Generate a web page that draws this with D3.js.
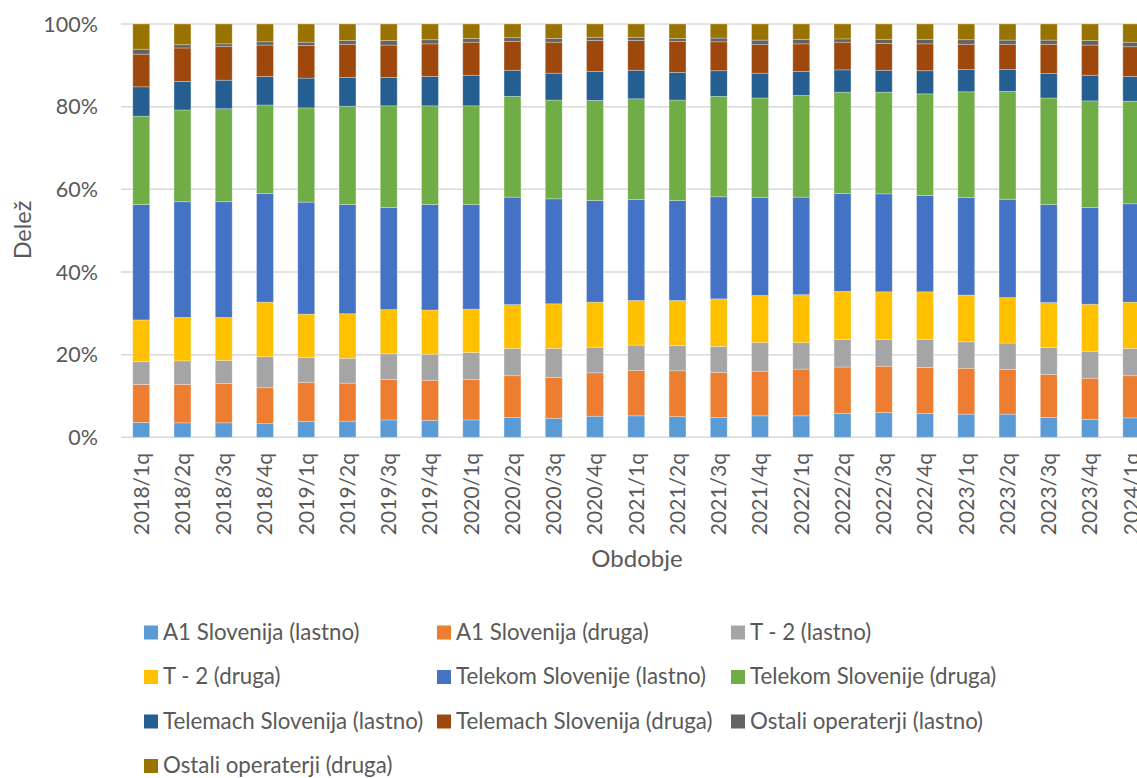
<!DOCTYPE html>
<html>
<head>
<meta charset="utf-8">
<script src="https://cdn.jsdelivr.net/npm/d3@7"></script>
<style>
  html, body { margin: 0; padding: 0; background: #fff; overflow: hidden; }
  text { font-family: Lato, "Open Sans", sans-serif; fill: #595959; }
</style>
</head>
<body>
<svg id="chart" width="1137" height="778"></svg>
<script>
const categories = ["2018/1q","2018/2q","2018/3q","2018/4q","2019/1q","2019/2q","2019/3q","2019/4q",
  "2020/1q","2020/2q","2020/3q","2020/4q","2021/1q","2021/2q","2021/3q","2021/4q",
  "2022/1q","2022/2q","2022/3q","2022/4q","2023/1q","2023/2q","2023/3q","2023/4q","2024/1q"];

const seriesNames = ["A1 Slovenija (lastno)","A1 Slovenija (druga)","T - 2 (lastno)","T - 2 (druga)",
  "Telekom Slovenije (lastno)","Telekom Slovenije (druga)","Telemach Slovenija (lastno)",
  "Telemach Slovenija (druga)","Ostali operaterji (lastno)","Ostali operaterji (druga)"];

const a1Lastno       = [3.6,3.5,3.5,3.3,3.8,3.9,4.2,4.1,4.2,4.8,4.6,5.1,5.2,5.0,4.8,5.2,5.2,5.8,6.0,5.8,5.6,5.6,4.8,4.3,4.7];
const a1Druga        = [9.2,9.3,9.5,8.7,9.5,9.2,9.8,9.7,9.8,10.1,9.9,10.5,11.0,11.1,10.9,10.8,11.3,11.2,11.2,11.1,11.1,10.8,10.4,10.0,10.2];
const t2Lastno       = [5.5,5.7,5.6,7.5,6.0,6.0,6.2,6.3,6.5,6.6,7.0,6.2,6.1,6.1,6.3,6.9,6.4,6.7,6.5,6.8,6.4,6.4,6.5,6.5,6.6];
const t2Druga        = [10.1,10.5,10.4,13.2,10.5,10.8,10.7,10.7,10.5,10.6,10.8,10.9,10.8,10.9,11.5,11.4,11.6,11.6,11.5,11.5,11.3,11.0,10.9,11.4,11.2];
const telekomLastno  = [27.9,28.0,28.0,26.3,27.1,26.4,24.7,25.5,25.3,26.0,25.4,24.6,24.4,24.2,24.7,23.7,23.6,23.7,23.7,23.3,23.6,23.8,23.7,23.4,23.8];
const telekomDruga   = [21.4,22.2,22.5,21.4,22.8,23.8,24.6,23.9,23.9,24.4,23.9,24.2,24.4,24.3,24.3,24.1,24.6,24.5,24.6,24.6,25.6,26.1,25.8,25.8,24.8];
const telemachLastno = [7.1,6.9,6.9,6.9,7.2,7.0,6.9,7.1,7.4,6.3,6.5,7.0,6.9,6.7,6.2,6.0,5.8,5.4,5.3,5.6,5.4,5.3,5.9,6.2,6.0];
const telemachDruga  = [7.9,8.1,8.2,7.6,7.9,8.0,7.8,7.9,8.0,7.0,7.5,7.5,7.2,7.5,7.0,6.9,6.7,6.7,6.5,6.5,6.1,6.1,7.1,7.3,7.2];
const ostaliLastno   = [1.2,0.8,0.6,0.8,0.8,0.9,1.1,1.0,0.9,0.9,0.9,0.8,0.8,0.7,0.9,1.1,1.1,0.8,1.0,1.1,1.1,1.0,1.0,1.1,1.1];
const ostaliDruga    = [6.1,5.0,4.8,4.3,4.4,4.0,4.0,3.8,3.5,3.3,3.5,3.2,3.2,3.5,3.4,3.9,3.7,3.6,3.7,3.7,3.8,3.9,3.9,4.0,4.4];

const yTicks = [0, 0.2, 0.4, 0.6, 0.8, 1.0];
const colors = ["#5B9BD5","#ED7D31","#A5A5A5","#FFC000","#4472C4","#70AD47","#255E91","#9E480E","#636363","#997300"];

const seriesValues = [a1Lastno,a1Druga,t2Lastno,t2Druga,telekomLastno,telekomDruga,telemachLastno,telemachDruga,ostaliLastno,ostaliDruga];
const rows = categories.map((c, i) => {
  const r = { cat: c };
  seriesNames.forEach((s, k) => r[s] = seriesValues[k][i]);
  return r;
});

const svg = d3.select("#chart");
const x = d3.scaleBand().domain(categories).range([120.6, 1151.9]).paddingInner(0.59).paddingOuter(0.295);
const y = d3.scaleLinear().domain([0, 1]).range([437.3, 24]);

// gridlines
svg.append("g").selectAll("line").data(yTicks).join("line")
  .attr("x1", 121).attr("x2", 1137)
  .attr("y1", d => y(d)).attr("y2", d => y(d))
  .attr("stroke", "#d9d9d9").attr("stroke-width", 1.5);

// y tick labels
svg.append("g").selectAll("text").data(yTicks).join("text")
  .attr("x", 98).attr("y", d => y(d)).attr("dy", "0.36em")
  .attr("text-anchor", "end").style("font-size", "21.5px")
  .text(d => d3.format(".0%")(d));

const stack = d3.stack().keys(seriesNames).offset(d3.stackOffsetExpand);
const stacked = stack(rows);

svg.append("g").selectAll("g").data(stacked).join("g")
  .attr("fill", (d, i) => colors[i])
  .selectAll("rect").data(d => d).join("rect")
  .attr("x", d => x(d.data.cat))
  .attr("width", x.bandwidth())
  .attr("y", d => y(d[1]))
  .attr("height", d => y(d[0]) - y(d[1]))
  .attr("stroke", "#ffffff").attr("stroke-opacity", 0.35).attr("stroke-width", 0.8);

// x labels
svg.append("g").selectAll("text").data(categories).join("text")
  .attr("transform", d => `translate(${x(d) + x.bandwidth() / 2},453) rotate(-90)`)
  .attr("text-anchor", "end").attr("dy", "0.35em")
  .style("font-size", "21px")
  .text(d => d);

// axis titles
svg.append("text").attr("x", 637).attr("y", 567).attr("text-anchor", "middle")
  .style("font-size", "24px").text("Obdobje");
svg.append("text").attr("transform", "translate(31,230) rotate(-90)").attr("text-anchor", "middle")
  .style("font-size", "23.5px").text("Delež");

// legend
const colX = [144, 437, 731];
const rowY = [625.5, 670, 714.5, 759];
const legend = svg.append("g").selectAll("g").data(seriesNames).join("g")
  .attr("transform", (d, i) => `translate(${colX[i % 3]},${rowY[Math.floor(i / 3)]})`);
legend.append("rect").attr("width", 14).attr("height", 14).attr("fill", (d, i) => colors[i]);
legend.append("text").attr("x", 19).attr("y", 14).style("font-size", "22.3px").text(d => d);
</script>
</body>
</html>
